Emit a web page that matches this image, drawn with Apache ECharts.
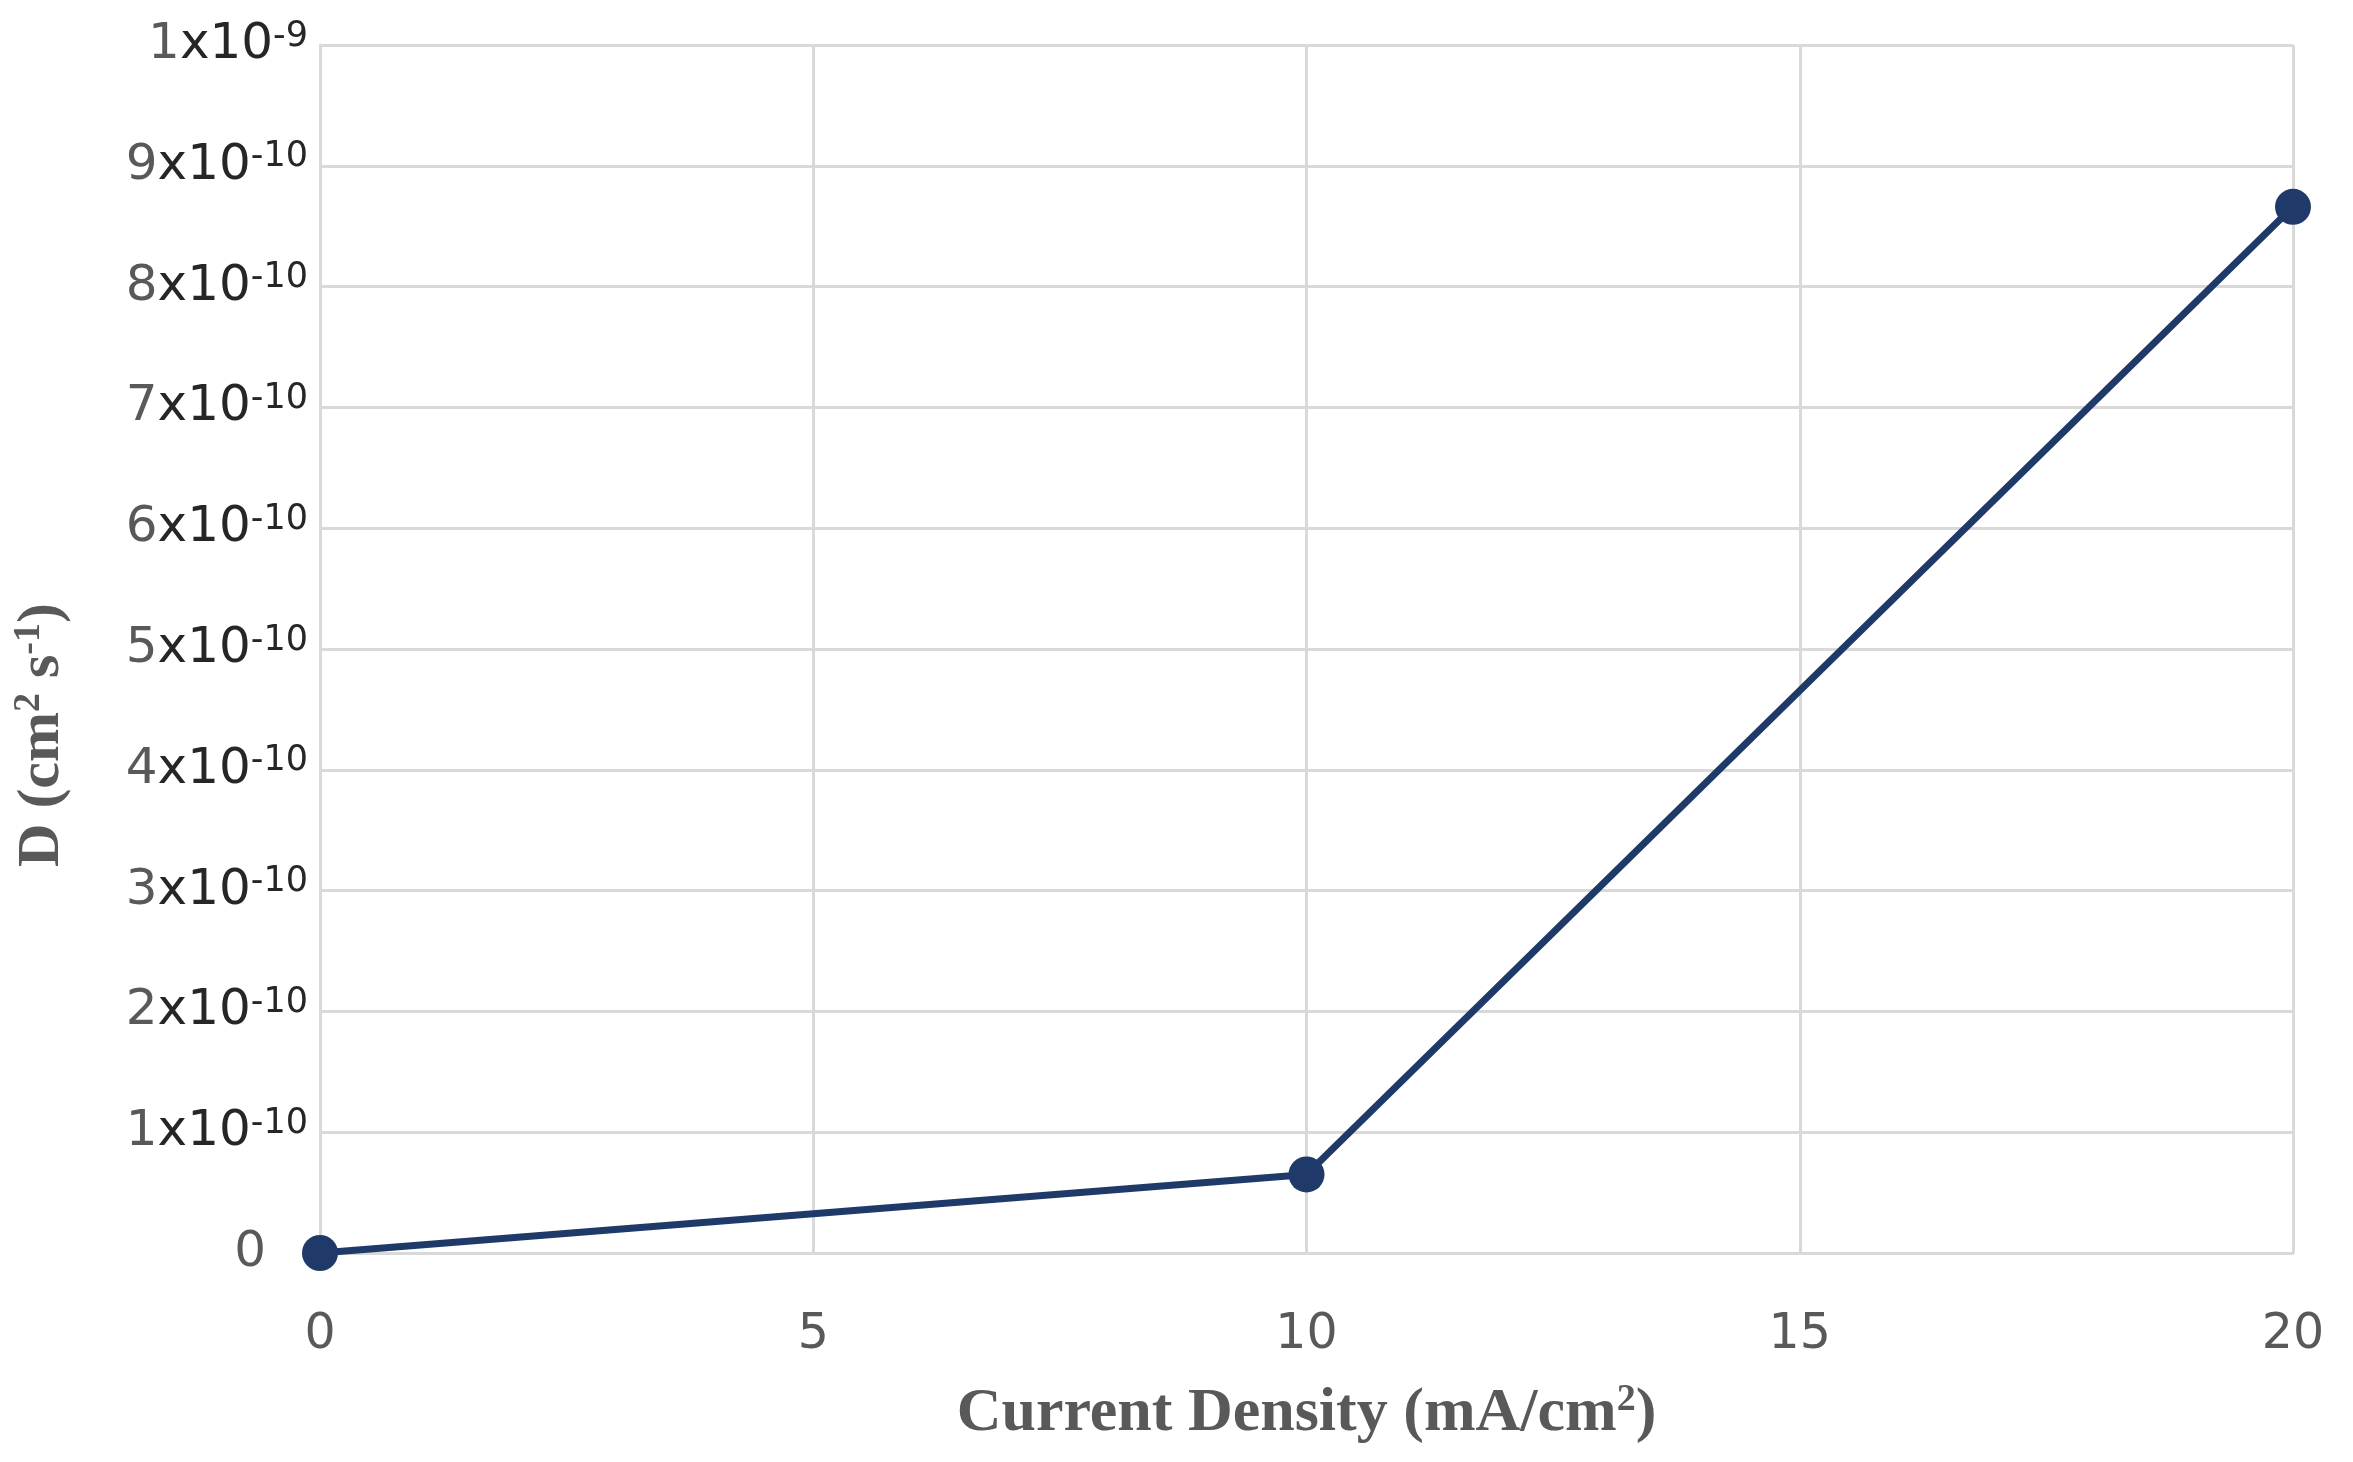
<!DOCTYPE html>
<html>
<head>
<meta charset="utf-8">
<title>D vs current density</title>
<script src="https://cdn.jsdelivr.net/npm/echarts@6/dist/echarts.min.js"></script>
<style>
  html, body { margin: 0; padding: 0; background: #fff; }
  #chart { width: 2353px; height: 1462px; }
</style>
</head>
<body>
<div id="chart"></div>
<script>
// data
var currentDensity = [0, 10, 20];           // mA/cm2
var diffusion = [0, 6.5e-11, 8.66e-10];     // cm2 s-1

var xTicks = [0, 5, 10, 15, 20];
// y tick labels: mantissa + exponent, one per 1e-10 step
var yTickMant = ['0', '1', '2', '3', '4', '5', '6', '7', '8', '9', '1'];
var yTickExp = ['', '-10', '-10', '-10', '-10', '-10', '-10', '-10', '-10', '-10', '-9'];

var navy = '#1f3a68'
  , gridGray = '#d9d9d9'
  , textGray = '#595959'
  , darkText = '#262626';

var chart = echarts.init(document.getElementById('chart'));

var points = currentDensity.map(function(x, i) { return [x, diffusion[i]]; });

var option = {
  backgroundColor: '#fff',
  animation: false,
  grid: { left: 320, right: 60, top: 45, bottom: 209 },
  xAxis: {
    type: 'value',
    min: xTicks[0],
    max: xTicks[xTicks.length - 1],
    interval: xTicks[1] - xTicks[0],
    name: '{a|Current Density (mA/cm}{s|2}{a|)}',
    nameLocation: 'middle',
    nameGap: 128,
    nameTextStyle: {
      rich: {
        a: { fontFamily: 'Liberation Serif', fontWeight: 'bold', fontSize: 62, color: textGray, lineHeight: 66 },
        s: { fontFamily: 'Liberation Serif', fontWeight: 'bold', fontSize: 38, color: textGray, lineHeight: 40, verticalAlign: 'top' }
      }
    },
    axisLine: { lineStyle: { color: gridGray, width: 3 } },
    axisTick: { show: false },
    splitLine: { lineStyle: { color: gridGray, width: 3 } },
    axisLabel: {
      margin: 58,
      fontFamily: 'DejaVu Sans',
      fontSize: 49,
      color: textGray
    }
  },
  yAxis: {
    type: 'value',
    min: 0,
    max: 1e-9,
    interval: 1e-10,
    axisLine: { show: true, lineStyle: { color: gridGray, width: 3 } },
    axisTick: { show: false },
    splitLine: { lineStyle: { color: gridGray, width: 3 } },
    axisLabel: {
      margin: 12,
      formatter: function(value) {
        var i = Math.round(value / 1e-10);
        if (yTickExp[i] === '') {
          return '{zero|' + yTickMant[i] + '}';
        }
        return '{m|' + yTickMant[i] + '}{x|x10}{e|' + yTickExp[i] + '}';
      },
      rich: {
        zero: { fontFamily: 'DejaVu Sans', fontSize: 50, color: textGray, lineHeight: 52, padding: [0, 42, 0, 0] },
        m: { fontFamily: 'DejaVu Sans', fontSize: 50, color: textGray, lineHeight: 52 },
        x: { fontFamily: 'DejaVu Sans', fontSize: 50, color: darkText, lineHeight: 52 },
        e: { fontFamily: 'DejaVu Sans', fontSize: 35, color: darkText, lineHeight: 22, verticalAlign: 'top' }
      }
    }
  },
  graphic: [{
    type: 'text',
    x: 42,
    y: 735,
    rotation: Math.PI / 2,
    style: {
      text: '{a|D (cm}{s|2}{a| s}{s|-1}{a|)}',
      align: 'center',
      verticalAlign: 'middle',
      rich: {
        a: { fontFamily: 'Liberation Serif', fontWeight: 'bold', fontSize: 60, fill: textGray, lineHeight: 64 },
        s: { fontFamily: 'Liberation Serif', fontWeight: 'bold', fontSize: 38, fill: textGray, lineHeight: 38, verticalAlign: 'top' }
      }
    }
  }],
  series: [{
    type: 'line',
    data: points,
    symbol: 'circle',
    symbolSize: 36,
    lineStyle: { color: navy, width: 7 },
    itemStyle: { color: navy },
    clip: false,
    z: 5
  }]
};

chart.setOption(option);
</script>
</body>
</html>
